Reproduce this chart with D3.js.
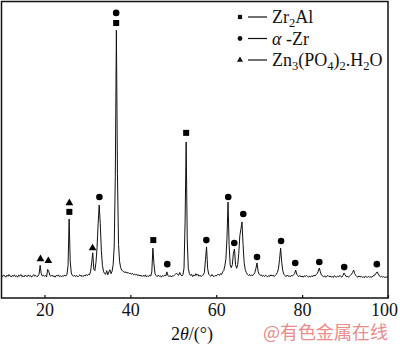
<!DOCTYPE html>
<html>
<head>
	<meta charset="utf-8">
	<title>XRD pattern</title>
	<script src="https://d3js.org/d3.v7.min.js"></script>
	<style>
		body { margin: 0; background: #fff; }
		svg { display: block; }
		text { font-family: "Liberation Serif", "Times New Roman", serif; }
	</style>
</head>
<body>
	<script>
		// scan, one value every 0.25 deg from 10 to 100
		var angleStart = 10,
			angleStep = 0.25;
		var intensity = [
			76, 72, 78, 74,   70, 77, 73, 79,   74, 71, 76, 73,   78, 72, 75, 70,   77, 74, 79, 72,
			75, 71, 77, 74,   72, 78, 73, 76,   70, 75, 79, 73,   76, 72, 74, 80,   110, 82, 74, 77,
			73, 76, 71, 96,   90, 76, 73, 77,   72, 75, 70, 76,   74, 78, 72, 75,   71, 76, 73, 77,
			74, 80, 110, 266, 125, 84, 76, 73,  77, 72, 76, 71,   75, 78, 73, 76,   72, 77, 74, 79,
			75, 80, 78, 90,   118, 152, 96, 92, 120, 170, 250, 313, 250, 160, 110, 90, 82, 80, 92, 78,
			88, 95, 82, 90,   112, 175, 410, 902, 420, 180, 122, 102, 94, 90, 88, 86, 88, 84, 86, 82,
			84, 80, 83, 78,   81, 77, 80, 75,   78, 74, 77, 72,   76, 73, 78, 71,   75, 72, 77, 74,
			88, 168, 115, 82, 76, 72, 77, 73,   75, 70, 76, 73,   77, 74, 88, 76,   72, 76, 71, 75,
			73, 77, 80, 84,   79, 76, 86, 78,   74, 78, 100, 255, 525, 195, 100, 82, 76, 80, 72, 78,
			74, 82, 76, 80,   73, 77, 72, 76,   78, 86, 130, 172, 100, 80, 76, 73,  79, 74, 72, 76,
			74, 78, 80, 76,   82, 79, 88, 92,   108, 130, 200, 323, 180, 112, 102, 112, 150, 165, 112, 100,
			112, 150, 210, 232, 256, 180, 120, 96, 86, 80, 76, 79, 74, 78, 75, 80,  86, 100, 118, 90,
			80, 76, 78, 73,   76, 72, 77, 74,   71, 76, 73, 78,   74, 77, 72, 76,   80, 86, 100, 130,
			168, 120, 92, 80, 76, 72, 77, 73,   75, 71, 76, 74,   78, 82, 94, 80,   75, 72, 76, 71,
			74, 70, 75, 72,   76, 73, 70, 74,   71, 75, 72, 77,   74, 78, 82, 90,   101, 88, 78, 74,
			71, 75, 70, 73,   76, 72, 74, 70,   73, 69, 75, 72,   70, 74, 71, 76,   73, 70, 76, 84,
			78, 72, 74, 70,   73, 76, 80, 86,   94, 82, 76, 72,   70, 74, 71, 73,   69, 72, 68, 74,
			71, 70, 73, 69,   72, 70, 74, 76,   78, 84, 88, 80,   74, 71, 73, 70,   72, 69, 71, 70,
			71
		];

		// phase markers: peak angle and the height the marker sits at
		var zr2alAngles = [25.8, 36.7, 45.35, 53.0];
		var zr2alMarks = [290, 926, 195, 556];
		var alphaZrAngles = [32.8, 36.7, 48.6, 57.7, 62.8, 64.2, 66.3, 69.5, 75.1, 78.4, 84.0, 89.8, 97.4];
		var alphaZrMarks = [340, 960, 114, 195, 340, 185, 283, 138, 192, 118, 121, 104, 114];
		var znAngles = [19.07, 20.9, 25.8, 31.2];
		var znMarks = [131, 125, 320, 168];

		var xTicks = [20, 40, 60, 80, 100];
		var xTitle = ["2", "θ", "/(°)"];
		var watermark = "@有色金属在线";
		var legendNames = [
			[["Zr"], ["2", "sub"], ["Al"]],
			[["α", "it"], [" -Zr"]],
			[["Zn"], ["3", "sub"], ["(PO"], ["4", "sub"], [")"], ["2", "sub"], [".H"], ["2", "sub"], ["O"]]
		];

		var svgWidth = 400,
			svgHeight = 344,
			plot = {left: 1.5, top: 1.5, right: 388, bottom: 298},
			svg = d3.select("body")
				.append("svg")
				.attr("width", svgWidth)
				.attr("height", svgHeight);

		var x = d3.scaleLinear()
				.domain([10, 100])
				.range([plot.left, plot.right]),
			y = d3.scaleLinear()
				.domain([0, 1000])
				.range([plot.bottom, plot.bottom - 297]);

		createVisualization();

		function createVisualization() {
			svg.append("rect")
				.attr("width", svgWidth)
				.attr("height", svgHeight)
				.attr("fill", "#fff");

			// the scan
			var line = d3.line()
				.x(function(d, i) { return x(angleStart + i * angleStep); })
				.y(function(d) { return y(d); });

			svg.append("path")
				.datum(intensity)
				.attr("d", line)
				.attr("fill", "none")
				.attr("stroke", "#111")
				.attr("stroke-width", 1)
				.attr("stroke-linejoin", "round");

			// markers over the peaks
			addMarks(zr2alAngles, zr2alMarks, d3.symbolSquare, 36);
			addMarks(alphaZrAngles, alphaZrMarks, d3.symbolCircle, 34);
			addMarks(znAngles, znMarks, d3.symbolTriangle, 26);

			// frame
			svg.append("rect")
				.attr("x", plot.left)
				.attr("y", plot.top)
				.attr("width", plot.right - plot.left)
				.attr("height", plot.bottom - plot.top)
				.attr("fill", "none")
				.attr("stroke", "#111")
				.attr("stroke-width", 1.5);

			// bottom axis, ticks point inward
			var axis = svg.append("g")
				.attr("transform", "translate(0," + plot.bottom + ")")
				.call(d3.axisBottom(x).tickValues(xTicks).tickSizeInner(-3).tickSizeOuter(0).tickPadding(5));
			axis.select(".domain").remove();
			axis.selectAll("line").attr("stroke", "#111").attr("stroke-width", 1.2);
			axis.selectAll("text")
				.attr("fill", "#111")
				.attr("dx", function(d) { return d === 100 ? -4 : 0; })
				.style("font-family", "'Liberation Serif', serif")
				.style("font-size", "18px");

			var title = svg.append("text")
				.attr("x", 192)
				.attr("y", 340)
				.attr("text-anchor", "middle")
				.attr("font-size", 18)
				.attr("fill", "#111");
			title.append("tspan").text(xTitle[0]);
			title.append("tspan").attr("font-style", "italic").text(xTitle[1]);
			title.append("tspan").text(xTitle[2]);

			// legend
			var shapes = [d3.symbolSquare, d3.symbolCircle, d3.symbolTriangle];
			var sizes = [18, 18, 16];
			legendNames.forEach(function(parts, i) {
				var ly = 17 + i * 21.5;
				svg.append("path")
					.attr("transform", "translate(240," + ly + ")")
					.attr("d", d3.symbol().type(shapes[i]).size(sizes[i]))
					.attr("fill", "#111");
				svg.append("line")
					.attr("x1", 248).attr("x2", 267)
					.attr("y1", ly).attr("y2", ly)
					.attr("stroke", "#111")
					.attr("stroke-width", 1.2);
				var t = svg.append("text")
					.attr("x", 272)
					.attr("y", ly + 6)
					.attr("font-size", 18)
					.attr("fill", "#111");
				var shift = 0;
				parts.forEach(function(p) {
					var s = t.append("tspan").text(p[0]);
					if (p[1] === "sub") {
						s.attr("font-size", 12.5).attr("dy", 4 - shift);
						shift = 4;
					} else {
						if (shift) s.attr("dy", -shift);
						shift = 0;
						if (p[1] === "it") s.attr("font-style", "italic");
					}
				});
			});

			svg.append("text")
				.attr("x", 388)
				.attr("y", 339)
				.attr("text-anchor", "end")
				.style("font-family", "'Noto Sans CJK SC', sans-serif")
				.attr("font-size", 18)
				.attr("fill", "#ec8b8b")
				.text(watermark);
		}

		function addMarks(angles, marks, shape, size) {
			svg.append("g")
				.selectAll("path")
				.data(angles)
				.enter().append("path")
				.attr("transform", function(d, i) { return "translate(" + x(d) + "," + y(marks[i]) + ")"; })
				.attr("d", d3.symbol().type(shape).size(size))
				.attr("fill", "#000");
		}
	</script>
</body>
</html>
